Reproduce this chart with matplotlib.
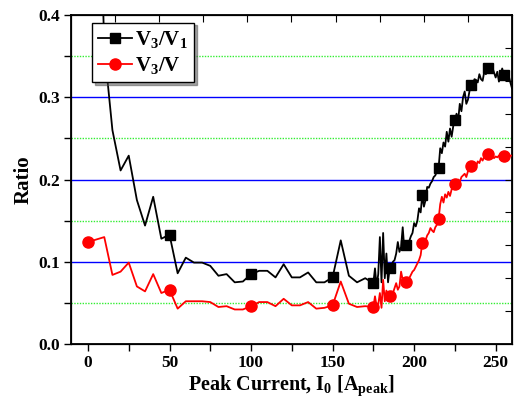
import matplotlib
matplotlib.use("Agg")
import matplotlib.pyplot as plt
import numpy as np

plt.rcParams['font.family'] = ['Liberation Serif', 'DejaVu Serif']
plt.rcParams['font.weight'] = 'bold'
plt.rcParams['mathtext.fontset'] = 'custom'
plt.rcParams['mathtext.rm'] = 'Liberation Serif:bold'
plt.rcParams['mathtext.it'] = 'Liberation Serif:bold'
plt.rcParams['mathtext.bf'] = 'Liberation Serif:bold'

# sparse part (every 5 A), then dense part (every 1 A)
x_sparse = [0, 5, 10, 15, 20, 25, 30, 35, 40, 45, 50, 55, 60, 65, 70, 75, 80, 85,
            90, 95, 100, 105, 110, 115, 120, 125, 130, 135, 140, 145, 150, 155,
            160, 165, 170]
x_dense = list(range(175, 261))

v31_sparse = [0.80, 0.72, 0.36, 0.260, 0.211, 0.229, 0.175, 0.144, 0.179, 0.128,
              0.133, 0.086, 0.105, 0.099, 0.099, 0.095, 0.083, 0.085, 0.075, 0.076,
              0.085, 0.089, 0.089, 0.081, 0.097, 0.081, 0.081, 0.087, 0.075, 0.075,
              0.081, 0.126, 0.083, 0.075, 0.080]
v31_dense = [0.074, 0.092, 0.070, 0.085, 0.130, 0.075, 0.135, 0.080, 0.110, 0.075,
             0.092, 0.095, 0.100, 0.102, 0.110, 0.124, 0.112, 0.118, 0.142, 0.115,
             0.120, 0.122, 0.125, 0.131, 0.135, 0.147, 0.143, 0.150, 0.165, 0.160,
             0.181, 0.167, 0.175, 0.191, 0.190, 0.195, 0.198, 0.203, 0.205, 0.210,
             0.214, 0.238, 0.232, 0.245, 0.240, 0.258, 0.246, 0.262, 0.252, 0.265,
             0.272, 0.280, 0.272, 0.292, 0.283, 0.300, 0.307, 0.292, 0.297, 0.308,
             0.315, 0.316, 0.322, 0.321, 0.318, 0.328, 0.322, 0.320, 0.331, 0.328,
             0.336, 0.334, 0.330, 0.336, 0.330, 0.324, 0.331, 0.319, 0.326, 0.335,
             0.327, 0.329, 0.325, 0.326, 0.318, 0.311]

v3v_sparse = [0.124, 0.127, 0.130, 0.084, 0.088, 0.099, 0.070, 0.064, 0.085, 0.062,
              0.066, 0.043, 0.052, 0.052, 0.052, 0.051, 0.045, 0.046, 0.042, 0.042,
              0.046, 0.051, 0.051, 0.046, 0.055, 0.047, 0.047, 0.051, 0.043, 0.044,
              0.047, 0.076, 0.049, 0.045, 0.046]
v3v_dense = [0.045, 0.058, 0.046, 0.048, 0.062, 0.044, 0.078, 0.052, 0.065, 0.055,
             0.058, 0.060, 0.062, 0.068, 0.074, 0.066, 0.070, 0.088, 0.078, 0.080,
             0.076, 0.078, 0.080, 0.084, 0.088, 0.090, 0.094, 0.098, 0.102, 0.108,
             0.123, 0.128, 0.126, 0.132, 0.135, 0.141, 0.138, 0.136, 0.142, 0.145,
             0.152, 0.170, 0.179, 0.172, 0.182, 0.178, 0.185, 0.180, 0.188, 0.190,
             0.195, 0.196, 0.200, 0.197, 0.203, 0.205, 0.207, 0.203, 0.210, 0.212,
             0.217, 0.214, 0.218, 0.216, 0.222, 0.220, 0.226, 0.223, 0.228, 0.226,
             0.231, 0.230, 0.228, 0.229, 0.226, 0.228, 0.227, 0.229, 0.228, 0.230,
             0.229, 0.228, 0.229, 0.228, 0.229, 0.229]

marker_x = [0, 50, 100, 150, 175, 185, 195, 205, 215, 225, 235, 245, 255]

x = np.array(x_sparse + x_dense)
v31 = np.array(v31_sparse + v31_dense)
v3v = np.array(v3v_sparse + v3v_dense)
mark_idx = [int(np.where(x == m)[0][0]) for m in marker_x]

fig = plt.figure(figsize=(5.16, 4.12), dpi=100)
ax = fig.add_axes([0.1376, 0.165, 0.8546, 0.7986])

for y in [0.1, 0.2, 0.3]:
    ax.axhline(y, color='#0000ff', lw=1.0, zorder=1)
for y in [0.05, 0.15, 0.25, 0.35]:
    ax.axhline(y, color='#33ee33', lw=1.0, ls=(0, (1, 1)), zorder=1)

ax.plot(x, v31, color='black', lw=1.3, marker='s', ms=6.5, markevery=mark_idx,
        label=r'$\mathrm{V_3/V_1}$', zorder=3)
ax.plot(x, v3v, color='red', lw=1.3, marker='o', ms=8, markevery=mark_idx,
        label=r'$\mathrm{V_3/V}$', zorder=3)

ax.set_xlim(-10.4, 260)
ax.set_ylim(0, 0.4)
ax.set_xticks([0, 50, 100, 150, 200, 250])
ax.set_xticks([25, 75, 125, 175, 225], minor=True)
ax.set_yticks([0.0, 0.1, 0.2, 0.3, 0.4])
ax.set_yticks([0.05, 0.15, 0.25, 0.35], minor=True)
ax.set_yticklabels(['0.0', '0.1', '0.2', '0.3', '0.4'])
ax.tick_params(which='both', direction='out', length=5, width=1.0, labelsize=12.5,
               top=False, right=False, pad=3)
for lab in ax.get_xticklabels() + ax.get_yticklabels():
    lab.set_fontweight('bold')
for sp in ax.spines.values():
    sp.set_linewidth(1.3)

ax.set_xlabel(r'Peak Current, I$_0$ [A$_{\mathrm{peak}}$]', fontsize=14.5, fontweight='bold', labelpad=2)
ax.set_ylabel('Ratio', fontsize=15, fontweight='bold', labelpad=3)

# top and right axes carry their own inward ticks
axt = ax.twiny()
axt.set_xlim(0, 10)
axt.set_xticks(range(1, 10))
axt.tick_params(direction='in', length=5, labeltop=False, top=True)
axr = ax.twinx()
axr.set_ylim(0, 10)
axr.set_yticks(range(1, 10))
axr.tick_params(direction='in', length=5, labelright=False, right=True)

leg = ax.legend(loc='upper left', bbox_to_anchor=(0.048, 0.977), fontsize=15,
                frameon=True, fancybox=False, shadow=True, handlelength=1.6,
                handletextpad=0.15, borderpad=0.3, labelspacing=0.25,
                borderaxespad=0)
leg.get_frame().set_edgecolor('black')
leg.get_frame().set_linewidth(1.0)
leg.set_zorder(5)

fig.savefig('out.png', dpi=100)
